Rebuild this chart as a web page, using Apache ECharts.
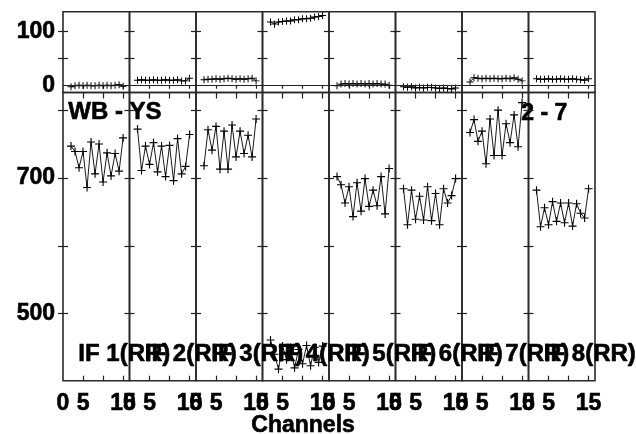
<!DOCTYPE html>
<html>
<head>
<meta charset="utf-8">
<script src="https://cdn.jsdelivr.net/npm/echarts@6/dist/echarts.min.js"></script>
<style>
  html, body { margin: 0; padding: 0; background: #fff; }
  #main { width: 636px; height: 434px; }
</style>
</head>
<body>
<div id="main"></div>
<script>
// channels plotted in every IF
const channels = [2, 3, 4, 5, 6, 7, 8, 9, 10, 11, 12, 13, 14, 15];

// phase (top strip), one array per IF
const phase1 = [-2, 0, 1, 0, 1, 0, 0, 1, 0, 1, 0, 1, 2, -1];
const phase2 = [10, 11, 10, 10, 11, 10, 10, 11, 10, 10, 11, 9, 9, 14];
const phase3 = [11, 12, 12, 13, 12, 13, 14, 13, 12, 13, 12, 13, 14, 9];
const phase4 = [118, 114, 118, 119, 120, 120, 122, 122, 124, 124, 125, 127, 128, 130];
const phase5 = [0, 3, 4, 3, 4, 3, 4, 3, 4, 3, 4, 3, 3, 1];
const phase6 = [-2, -3, -2, -4, -3, -4, -3, -3, -4, -5, -4, -5, -6, -4];
const phase7 = [7, 15, 14, 13, 14, 13, 14, 13, 13, 14, 13, 15, 12, 9];
const phase8 = [13, 12, 12, 13, 12, 12, 13, 12, 12, 13, 12, 11, 10, 13];

// amplitude (main strip)
const amp1 = [747, 739, 715, 739, 686, 753, 706, 750, 694, 737, 703, 736, 710, 759];
const amp2 = [772, 711, 747, 720, 752, 709, 747, 702, 748, 696, 758, 706, 717, 764];
const amp3 = [718, 771, 741, 776, 713, 769, 713, 778, 731, 769, 736, 763, 731, 787];
const amp4 = [461, 440, 418, 452, 432, 450, 420, 447, 426, 453, 423, 450, 428, 452];
const amp5 = [702, 690, 663, 687, 643, 693, 651, 699, 658, 682, 659, 702, 647, 714];
const amp6 = [684, 631, 682, 639, 673, 638, 687, 637, 677, 631, 684, 663, 674, 699];
const amp7 = [767, 786, 754, 769, 721, 787, 733, 800, 733, 780, 752, 793, 746, 811];
const amp8 = [682, 628, 656, 631, 665, 636, 663, 634, 663, 629, 662, 648, 641, 684];

const ifNames = ['IF 1(RR)', 'IF 2(RR)', 'IF 3(RR)', 'IF 4(RR)', 'IF 5(RR)', 'IF 6(RR)', 'IF 7(RR)', 'IF 8(RR)'];
const xTicks = [5, 10, 15];
const xTickLabels = [0, 5, 15];
const phaseTicks = [50, 100];
const phaseTickLabels = [0, 100];
const ampTicks = [500, 600, 700, 800];
const ampTickLabels = [500, 700];

const phases = [phase1, phase2, phase3, phase4, phase5, phase6, phase7, phase8];
const amps = [amp1, amp2, amp3, amp4, amp5, amp6, amp7, amp8];

const FONT = '"Liberation Sans", Arial, sans-serif';
const PLUS = 'path://M4.3,0H5.7V4.3H10V5.7H5.7V10H4.3V5.7H0V4.3H4.3Z';

const LEFT = 63, PW = 66.5;
const TOP1 = 11.7, H1 = 80.8;   // phase strip
const TOP2 = 92.5, H2 = 288.2;  // amplitude strip

let grid = [], xAxis = [], yAxis = [], series = [], graphic = [];

// heavy bold text, like the plot file's font
const lbl = {
  color: '#000', fontSize: 23, fontWeight: 'bold', fontFamily: FONT,
  textBorderColor: '#000', textBorderWidth: 0.6
};
const txt = (t, size) => ({ text: t, fill: '#000', font: 'bold ' + (size || 23) + 'px ' + FONT, stroke: '#000', lineWidth: 0.6 });

for (let i = 0; i < 8; i++) {
  for (let row = 0; row < 2; row++) {
    const g = grid.length;
    grid.push({
      left: LEFT + PW * i, width: PW,
      top: row === 0 ? TOP1 : TOP2, height: row === 0 ? H1 : H2,
      show: true, borderColor: '#2a2a2a', borderWidth: 1.6, backgroundColor: 'transparent'
    });
    const tickLen = row === 0 ? 3 : 6;
    // bottom x axis
    xAxis.push({
      type: 'value', gridIndex: g, min: 0, max: 16.6, position: 'bottom',
      axisLine: { show: false }, splitLine: { show: false },
      axisTick: { show: row === 1, inside: true, length: 5, customValues: xTicks, lineStyle: { color: '#222', width: 1.2 } },
      axisLabel: { show: row === 1, customValues: xTickLabels, margin: 11, ...lbl }
    });
    // top x axis (ticks only)
    xAxis.push({
      type: 'value', gridIndex: g, min: 0, max: 16.6, position: 'top',
      axisLine: { show: false }, splitLine: { show: false },
      axisTick: { show: true, inside: true, length: tickLen, customValues: xTicks, lineStyle: { color: '#222', width: 1.2 } },
      axisLabel: { show: false }
    });
    const yRange = row === 0 ? { min: -12.5, max: 137 } : { min: 401, max: 826 };
    const yt = row === 0 ? phaseTicks : ampTicks;
    const yl = row === 0 ? phaseTickLabels : ampTickLabels;
    yAxis.push({
      type: 'value', gridIndex: g, ...yRange, position: 'left',
      axisLine: { show: false }, splitLine: { show: false },
      axisTick: { show: true, inside: true, length: 5, customValues: yt, lineStyle: { color: '#222', width: 1.2 } },
      axisLabel: { show: i === 0, customValues: yl, margin: 8, padding: [6, 0, 0, 0], ...lbl }
    });
    yAxis.push({
      type: 'value', gridIndex: g, ...yRange, position: 'right',
      axisLine: { show: false }, splitLine: { show: false },
      axisTick: { show: true, inside: true, length: 5, customValues: yt, lineStyle: { color: '#222', width: 1.2 } },
      axisLabel: { show: false }
    });

    const vals = row === 0 ? phases[i] : amps[i];
    const s = {
      type: 'line', xAxisIndex: 2 * g, yAxisIndex: 2 * g,
      data: channels.map((c, k) => [c, vals[k]]),
      symbol: PLUS, symbolSize: row === 0 ? 7 : 8,
      itemStyle: { color: '#000' },
      lineStyle: { color: '#000', width: 0.9 },
      animation: false, silent: true
    };
    if (row === 0) {
      // zero line of the phase strip
      s.markLine = {
        silent: true, symbol: ['none', 'none'], label: { show: false },
        lineStyle: { color: '#222', width: 1.2, type: 'solid' },
        data: [{ yAxis: 0 }]
      };
    }
    series.push(s);
  }

  graphic.push({ type: 'text', left: LEFT + PW * i + 15, top: 342, style: txt(ifNames[i], 24) });
}

graphic.push({ type: 'text', left: 68, top: 100, style: txt('WB - YS', 24) });
graphic.push({ type: 'text', left: 521, top: 102, style: txt('2 - 7') });
graphic.push({ type: 'text', left: 251, top: 414, style: txt('Channels') });

let myChart = echarts.init(document.getElementById('main'), null, { renderer: 'canvas' });
let option = {
  animation: false,
  backgroundColor: '#fff',
  grid, xAxis, yAxis, series, graphic
};
option && myChart.setOption(option);
</script>
</body>
</html>
